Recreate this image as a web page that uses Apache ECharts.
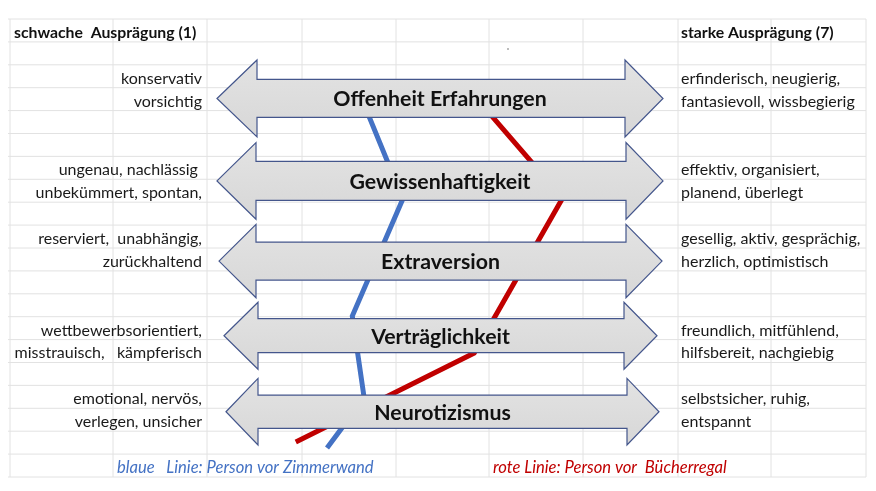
<!DOCTYPE html>
<html>
<head>
<meta charset="utf-8">
<script src="https://cdn.jsdelivr.net/npm/echarts/dist/echarts.min.js"></script>
<style>html,body{margin:0;padding:0;background:#fff;}#c{width:876px;height:491px;}</style>
</head>
<body>
<div id="c"></div>
<script>
// ---- data ----
const dimensions = ['Offenheit Erfahrungen', 'Gewissenhaftigkeit', 'Extraversion', 'Verträglichkeit', 'Neurotizismus'];
const lowTraits = [
  ['konservativ', 'vorsichtig'],
  ['ungenau, nachlässig ', 'unbekümmert, spontan,'],
  ['reserviert,  unabhängig,', 'zurückhaltend'],
  ['wettbewerbsorientiert,', 'misstrauisch,   kämpferisch'],
  ['emotional, nervös,', 'verlegen, unsicher']
];
const highTraits = [
  ['erfinderisch, neugierig,', 'fantasievoll, wissbegierig'],
  ['effektiv, organisiert,', 'planend, überlegt'],
  ['gesellig, aktiv, gesprächig,', 'herzlich, optimistisch'],
  ['freundlich, mitfühlend,', 'hilfsbereit, nachgiebig'],
  ['selbstsicher, ruhig,', 'entspannt']
];
const scaleLow = 'schwache  Ausprägung (1)';
const scaleHigh = 'starke Ausprägung (7)';
const blueLabel = 'blaue   Linie: Person vor Zimmerwand';
const redLabel = 'rote Linie: Person vor  Bücherregal';
// line points: Ausprägung (1..7) and sheet row position
const blueValues = [2.95, 3.5, 2.82, 2.98, 2.48];
const blueRows   = [3.5, 7.86, 12.97, 16.55, 18.73];
const redValues  = [4.5, 5.65, 4.46, 2.06];
const redRows    = [3.5, 7.82, 14.59, 18.47];

// ---- layout (sheet geometry, styles) ----
const ROW_TOP = 19, ROW_H = 22.9, N_ROWS = 20;
const colEdges = [10, 113, 207, 302, 396, 489, 583, 678, 771, 866];
const arrowRows = [3.47, 7.07, 10.57, 13.83, 17.15];
const arrowShape = [
  {inL: 0, inR: 0, hlL: 40, hlR: 38, hh: 38.5, sh: 19},
  {inL: 0, inR: 0, hlL: 39, hlR: 37, hh: 38.3, sh: 19.5},
  {inL: 2, inR: 1, hlL: 37, hlR: 36, hh: 36.7, sh: 19},
  {inL: 7, inR: 6, hlL: 34, hlR: 33, hh: 33.5, sh: 17},
  {inL: 9, inR: 4, hlL: 32, hlR: 32, hh: 33.3, sh: 16.7}
];
const traitRows = [[2, 3], [6, 7], [9, 10], [13, 14], [16, 17]];
const FONT = 'Lato, "Open Sans", sans-serif';
const textY = k => ROW_TOP + ROW_H * (k + 0.6);

const graphics = [];
// spreadsheet grid
for (let k = 0; k <= N_ROWS; k++) {
  const y = ROW_TOP + ROW_H * k;
  graphics.push({type: 'line', z: 0, shape: {x1: 8, y1: y, x2: colEdges[colEdges.length - 1], y2: y},
    style: {stroke: '#e2e2e2', lineWidth: 1}});
}
colEdges.forEach(x => {
  graphics.push({type: 'line', z: 0, shape: {x1: x, y1: ROW_TOP, x2: x, y2: ROW_TOP + ROW_H * N_ROWS},
    style: {stroke: '#e2e2e2', lineWidth: 1}});
});
// header texts
graphics.push({type: 'text', z: 10, style: {text: scaleLow, x: colEdges[0] + 4, y: textY(0), verticalAlign: 'middle',
  font: 'bold 15.8px ' + FONT, fill: '#111'}});
graphics.push({type: 'text', z: 10, style: {text: scaleHigh, x: colEdges[7] + 3, y: textY(0), verticalAlign: 'middle',
  font: 'bold 15.8px ' + FONT, fill: '#111'}});
// trait texts
lowTraits.forEach((pair, i) => pair.forEach((t, j) => {
  graphics.push({type: 'text', z: 10, style: {text: t, x: colEdges[2] - 5, y: textY(traitRows[i][j]), align: 'right',
    verticalAlign: 'middle', font: '16px ' + FONT, fill: '#1a1a1a'}});
}));
highTraits.forEach((pair, i) => pair.forEach((t, j) => {
  graphics.push({type: 'text', z: 10, style: {text: t, x: colEdges[7] + 3, y: textY(traitRows[i][j]), align: 'left',
    verticalAlign: 'middle', font: '16px ' + FONT, fill: '#1a1a1a'}});
}));
// legend texts
graphics.push({type: 'text', z: 10, style: {text: blueLabel, x: colEdges[1] + 4, y: textY(19), verticalAlign: 'middle',
  font: 'italic 16.6px ' + FONT, fill: '#4472C4'}});
graphics.push({type: 'text', z: 10, style: {text: redLabel, x: colEdges[5] + 4, y: textY(19), verticalAlign: 'middle',
  font: 'italic 16.6px ' + FONT, fill: '#C00000'}});
graphics.push({type: 'circle', z: 10, shape: {cx: 508, cy: 49, r: 0.8}, style: {fill: '#666'}});

const chart = echarts.init(document.getElementById('c'), null, {renderer: 'canvas'});
chart.setOption({
  animation: false,
  backgroundColor: '#fff',
  grid: {left: 217, right: 213, top: ROW_TOP, height: ROW_H * N_ROWS},
  xAxis: {type: 'value', min: 1, max: 7, show: false},
  yAxis: {type: 'value', min: 0, max: N_ROWS, inverse: true, show: false},
  graphic: graphics,
  series: [
    {
      type: 'line', name: 'blau', z: 2, symbol: 'none',
      data: blueValues.map((v, i) => [v, blueRows[i]]),
      lineStyle: {color: '#4472C4', width: 5, cap: 'butt', join: 'miter'}
    },
    {
      type: 'line', name: 'rot', z: 2, symbol: 'none',
      data: redValues.map((v, i) => [v, redRows[i]]),
      lineStyle: {color: '#C00000', width: 5, cap: 'butt', join: 'miter'}
    },
    {
      type: 'custom', z: 5,
      data: dimensions.map((d, i) => [i, arrowRows[i]]),
      renderItem: function (params, api) {
        const i = api.value(0);
        const row = api.value(1);
        const s = arrowShape[i];
        const L = api.coord([1, row]);
        const R = api.coord([7, row]);
        const cy = L[1];
        const lx = L[0] + s.inL, rx = R[0] - s.inR;
        const pts = [
          [lx, cy], [lx + s.hlL, cy - s.hh], [lx + s.hlL, cy - s.sh], [rx - s.hlR, cy - s.sh],
          [rx - s.hlR, cy - s.hh], [rx, cy], [rx - s.hlR, cy + s.hh], [rx - s.hlR, cy + s.sh],
          [lx + s.hlL, cy + s.sh], [lx + s.hlL, cy + s.hh]
        ];
        return {
          type: 'group',
          children: [
            {type: 'polygon', shape: {points: pts},
              style: {fill: new echarts.graphic.LinearGradient(0, 0, 0, 1, [
                {offset: 0, color: '#e3e3e3'}, {offset: 1, color: '#d7d7d7'}]),
                stroke: '#44568c', lineWidth: 1.2}},
            {type: 'text', style: {text: dimensions[i], x: (lx + rx) / 2, y: cy + 1, align: 'center',
              verticalAlign: 'middle', font: 'bold 21.3px ' + FONT, fill: '#111'}}
          ]
        };
      }
    }
  ]
});
</script>
</body>
</html>
